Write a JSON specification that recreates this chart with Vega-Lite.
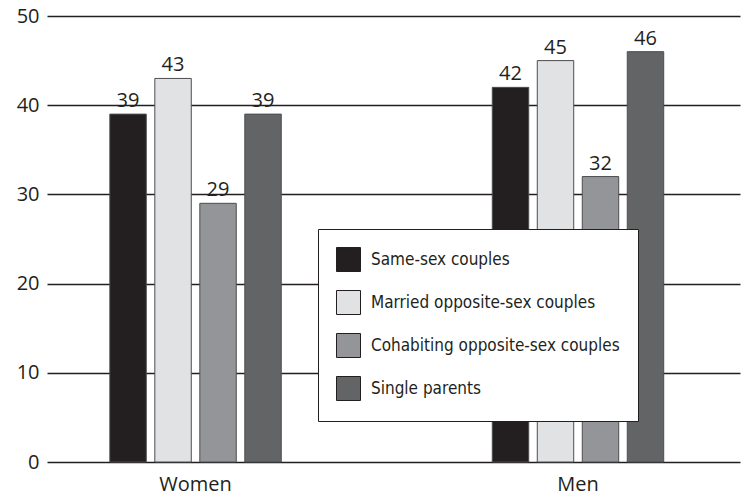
{
  "$schema": "https://vega.github.io/schema/vega-lite/v6.json",
  "width": 693,
  "height": 446,
  "autosize": "none",
  "padding": {"left": 47, "top": 16, "right": 7, "bottom": 38},
  "background": "white",
  "data": {"values": [
    {"group": "Women", "type": "Same-sex couples", "value": 39},
    {"group": "Women", "type": "Married opposite-sex couples", "value": 43},
    {"group": "Women", "type": "Cohabiting opposite-sex couples", "value": 29},
    {"group": "Women", "type": "Single parents", "value": 39},
    {"group": "Men", "type": "Same-sex couples", "value": 42},
    {"group": "Men", "type": "Married opposite-sex couples", "value": 45},
    {"group": "Men", "type": "Cohabiting opposite-sex couples", "value": 32},
    {"group": "Men", "type": "Single parents", "value": 46}
  ]},
  "config": {
    "view": {"stroke": null},
    "font": "Open Sans",
    "axis": {"labelColor": "#231f20", "labelFontSize": 19, "labelFont": "Open Sans"}
  },
  "encoding": {
    "x": {
      "field": "group", "type": "nominal", "sort": ["Women", "Men"],
      "scale": {"paddingInner": 0.54, "paddingOuter": 0.176, "align": 0.45},
      "axis": {"title": null, "labelAngle": 0, "domain": false, "ticks": false, "labelPadding": 12, "labelFontSize": 20}
    },
    "xOffset": {
      "field": "type", "type": "nominal",
      "sort": ["Same-sex couples", "Married opposite-sex couples", "Cohabiting opposite-sex couples", "Single parents"],
      "scale": {"paddingInner": 0.19, "paddingOuter": 0.05}
    },
    "y": {
      "field": "value", "type": "quantitative",
      "scale": {"domain": [0, 50], "nice": false},
      "axis": {"title": null, "values": [0, 10, 20, 30, 40, 50], "domain": false, "ticks": false, "labelPadding": 8,
        "grid": true, "gridColor": "#231f20", "gridWidth": 1.5, "gridOpacity": 1, "labelFontSize": 20}
    }
  },
  "layer": [
    {
      "mark": {"type": "bar", "stroke": "#4d4d4f", "strokeWidth": 1},
      "encoding": {
        "fill": {
          "field": "type", "type": "nominal",
          "sort": ["Same-sex couples", "Married opposite-sex couples", "Cohabiting opposite-sex couples", "Single parents"],
          "scale": {"range": ["#231f20", "#e1e2e4", "#939598", "#636466"]},
          "legend": {
            "title": null, "orient": "none", "legendX": 271, "legendY": 213,
            "strokeColor": "#231f20", "fillColor": "white", "padding": 18,
            "symbolType": "square", "symbolSize": 576, "symbolStrokeColor": "#231f20", "symbolStrokeWidth": 1,
            "labelFontSize": 17, "labelFont": "DejaVu Sans Condensed", "labelColor": "#231f20",
            "rowPadding": 14, "labelOffset": 10, "labelLimit": 400
          }
        }
      }
    },
    {
      "mark": {"type": "text", "baseline": "bottom", "dy": -3, "fontSize": 20, "color": "#231f20"},
      "encoding": {"text": {"field": "value", "type": "quantitative"}}
    }
  ]
}
